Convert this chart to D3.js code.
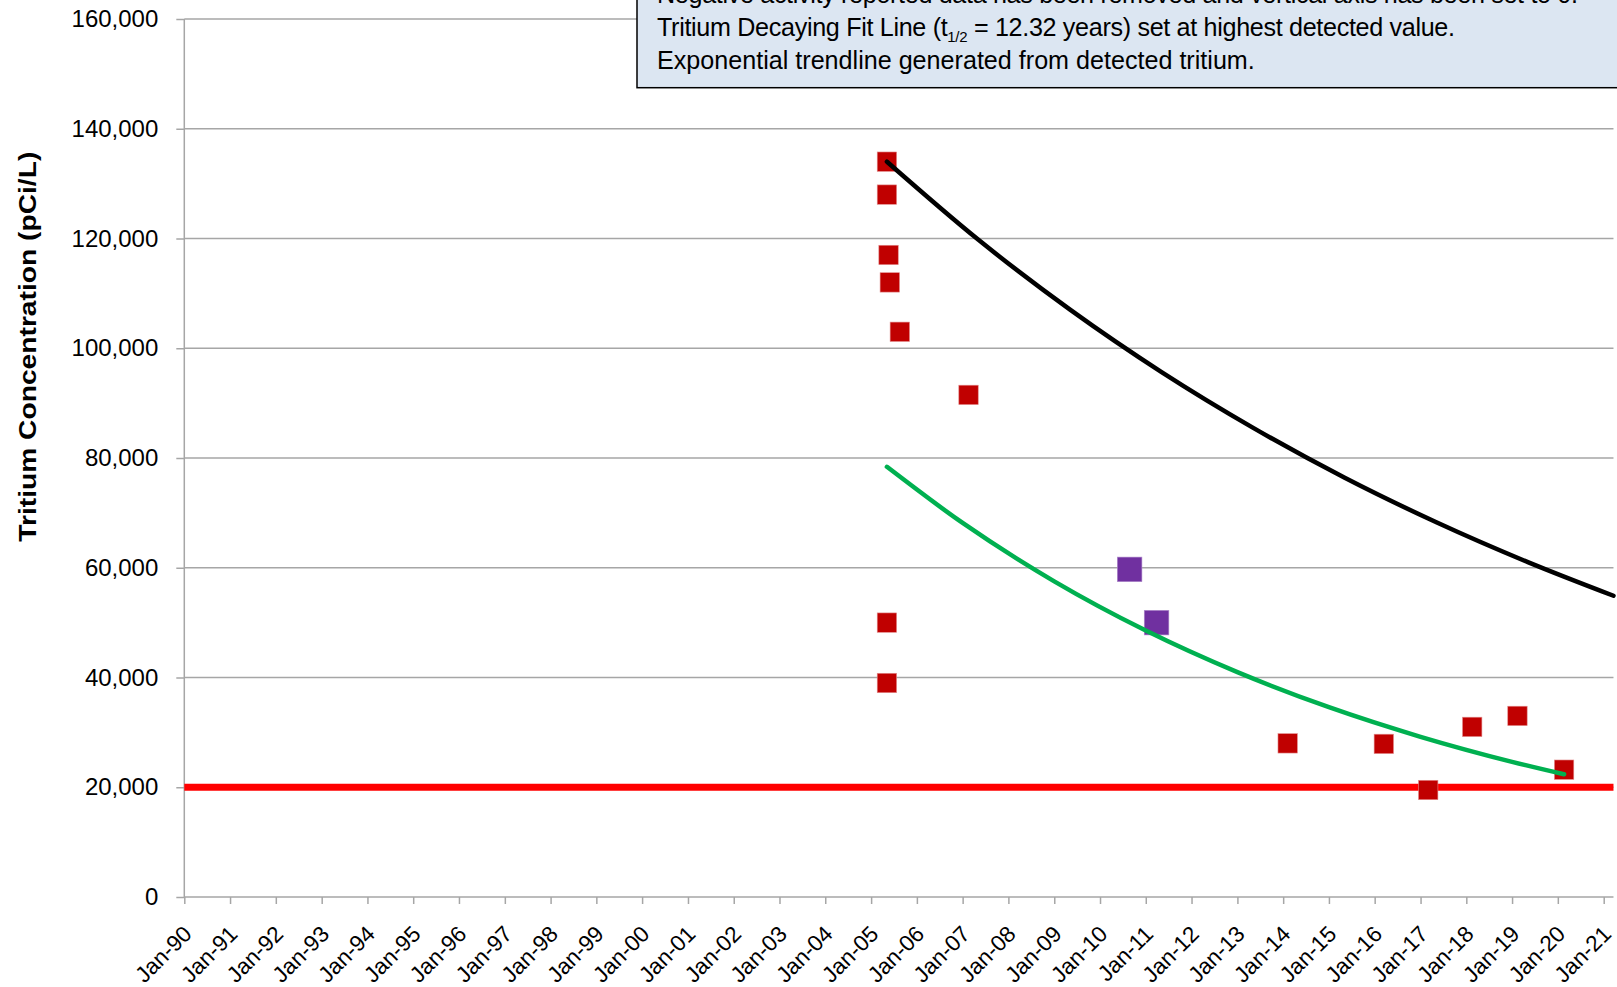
<!DOCTYPE html>
<html>
<head>
<meta charset="utf-8">
<script src="https://cdn.jsdelivr.net/npm/d3@7"></script>
<style>
  html, body { margin: 0; padding: 0; background: #fff; overflow: hidden; }
  svg { display: block; }
  text { font-family: "Liberation Sans", Arial, sans-serif; fill: #000; }
</style>
</head>
<body>
<svg id="chart" width="1617" height="987"></svg>
<script>
// ---- Data ----
const yTicks = [0, 20000, 40000, 60000, 80000, 100000, 120000, 140000, 160000];
const xTickYears = d3.range(1990, 2022);
const xTickLabels = xTickYears.map(y => "Jan-" + String(y % 100).padStart(2, "0"));

const detectedDates = ["2005-05-07","2005-05-07","2005-05-20","2005-05-30","2005-08-18","2007-02-17",
  "2005-05-07","2005-05-07","2014-02-06","2016-03-14","2017-03-03","2018-02-17","2019-02-13","2020-02-20"];
const detectedValues = [134000,128000,117000,112000,103000,91500,50000,39000,28000,27900,19500,31000,33000,23200];

const otherDates = ["2010-08-25","2011-03-28"];
const otherValues = [59700, 50000];

const decayDates = ["2005-05-07","2007-05-07","2009-05-07","2011-05-07","2013-05-07","2015-05-07","2017-05-07","2019-05-07","2021-03-20"];
const decayValues = [134000,119760,107030,95650,85490,76400,68290,61030,54900];

const trendDates = ["2005-05-07","2007-01-01","2009-01-01","2011-01-01","2013-01-01","2015-01-01","2017-01-01","2019-01-01","2020-02-20"];
const trendValues = [78400,68160,57520,48550,40970,34580,29190,24630,22360];

const limitDates = ["1990-01-01","2021-03-20"];
const limitValues = [20000, 20000];

const noteLines = [
  "Negative activity reported data has been removed and vertical axis has been set to 0.",
  "Tritium Decaying Fit Line (t",
  "Exponential trendline generated from detected tritium."
];
const yTitle = "Tritium Concentration (pCi/L)";

// ---- Layout ----
const svg = d3.select("#chart");
const parse = d3.timeParse("%Y-%m-%d");
const plotLeft = 184.3, plotTop = 19, plotBottom = 897;

const x = d3.scaleTime()
  .domain([new Date(1990,0,1), new Date(2021,0,1)])
  .range([plotLeft, 1603.7]);
const xEnd = x(parse("2021-03-20"));
const y = d3.scaleLinear().domain([0,160000]).range([plotBottom, plotTop]);

// gridlines
svg.append("g").selectAll("line").data(yTicks.filter(d => d > 0)).join("line")
  .attr("x1", plotLeft).attr("x2", xEnd)
  .attr("y1", d => y(d)).attr("y2", d => y(d))
  .attr("stroke", "#a6a6a6").attr("stroke-width", 1.5);

// y axis
const yAxis = d3.axisLeft(y).tickValues(yTicks).tickSize(8).tickPadding(18)
  .tickFormat(d3.format(","));
const gy = svg.append("g").attr("transform", `translate(${plotLeft},0)`).call(yAxis);
gy.select(".domain").attr("stroke", "#a6a6a6").attr("stroke-width", 1.5).attr("d", `M0,${plotBottom}V${plotTop}`);
gy.selectAll(".tick line").attr("stroke", "#a6a6a6").attr("stroke-width", 1.5);
gy.selectAll(".tick text").attr("font-size", 24).attr("font-family", "Liberation Sans, Arial, sans-serif").attr("fill", "#000");

// x axis
const xAxis = d3.axisBottom(x).tickValues(xTickYears.map(yr => new Date(yr,0,1)))
  .tickSize(7).tickFormat((d,i) => xTickLabels[i]);
const gx = svg.append("g").attr("transform", `translate(0,${plotBottom})`).call(xAxis);
gx.select(".domain").attr("stroke", "#a6a6a6").attr("stroke-width", 1.5).attr("d", `M${plotLeft},0H${xEnd}`);
gx.selectAll(".tick line").attr("stroke", "#a6a6a6").attr("stroke-width", 1.5);
gx.selectAll(".tick text")
  .attr("font-size", 22.5).attr("font-family", "Liberation Sans, Arial, sans-serif").attr("fill", "#000")
  .attr("text-anchor", "end").attr("dy", null).attr("y", 0)
  .attr("dominant-baseline", "central")
  .attr("transform", "translate(3,33) rotate(-45)");

// y title
svg.append("text")
  .attr("transform", `translate(28,346.7) rotate(-90)`)
  .attr("text-anchor", "middle").attr("dominant-baseline", "central")
  .attr("font-size", 23.5).attr("font-weight", "bold")
  .attr("textLength", 390).attr("lengthAdjust", "spacingAndGlyphs")
  .text(yTitle);

// limit line
const line = d3.line().x(d => x(d[0])).y(d => y(d[1]));
svg.append("path")
  .datum(limitDates.map((d,i) => [parse(d), limitValues[i]]))
  .attr("d", line).attr("fill", "none").attr("stroke", "#ff0000").attr("stroke-width", 7);

// markers
svg.append("g").selectAll("rect").data(detectedDates.map((d,i) => [parse(d), detectedValues[i]])).join("rect")
  .attr("x", d => x(d[0]) - 9.7).attr("y", d => y(d[1]) - 9.7)
  .attr("width", 19.4).attr("height", 19.4)
  .attr("fill", "#c00000").attr("stroke", "#e38d8d").attr("stroke-width", 0.6);

svg.append("g").selectAll("rect").data(otherDates.map((d,i) => [parse(d), otherValues[i]])).join("rect")
  .attr("x", d => x(d[0]) - 12.3).attr("y", d => y(d[1]) - 12.3)
  .attr("width", 24.6).attr("height", 24.6)
  .attr("fill", "#7030a0").attr("stroke", "#b08ccc").attr("stroke-width", 0.6);

// trend lines
const curve = d3.line().x(d => x(d[0])).y(d => y(d[1])).curve(d3.curveMonotoneX);
svg.append("path")
  .datum(decayDates.map((d,i) => [parse(d), decayValues[i]]))
  .attr("d", curve).attr("fill", "none").attr("stroke", "#000").attr("stroke-width", 4.5)
  .attr("stroke-linecap", "round");
svg.append("path")
  .datum(trendDates.map((d,i) => [parse(d), trendValues[i]]))
  .attr("d", curve).attr("fill", "none").attr("stroke", "#00b050").attr("stroke-width", 4.5)
  .attr("stroke-linecap", "round");

// note box
svg.append("rect")
  .attr("x", 637).attr("y", -40).attr("width", 1100).attr("height", 127.7)
  .attr("fill", "#dce6f2").attr("stroke", "#000").attr("stroke-width", 1.5);

const noteG = svg.append("g").attr("font-size", 22);
const t1 = noteG.append("text").attr("x", 657).attr("y", 3).text(noteLines[0]);
const t2 = noteG.append("text").attr("x", 657).attr("y", 36);
t2.append("tspan").text(noteLines[1]);
t2.append("tspan").attr("font-size", 15).attr("dy", 6).text("1/2");
t2.append("tspan").attr("dy", -6).text(" = 12.32 years) set at highest detected value.");
const t3 = noteG.append("text").attr("x", 657).attr("y", 69).text(noteLines[2]);
// fit font size so that line 3 matches reference width
const w3 = t3.node().getComputedTextLength();
noteG.attr("font-size", 22 * 598 / w3);
t1.attr("textLength", 921).attr("lengthAdjust", "spacing");
t2.attr("textLength", 798).attr("lengthAdjust", "spacing");
</script>
</body>
</html>
